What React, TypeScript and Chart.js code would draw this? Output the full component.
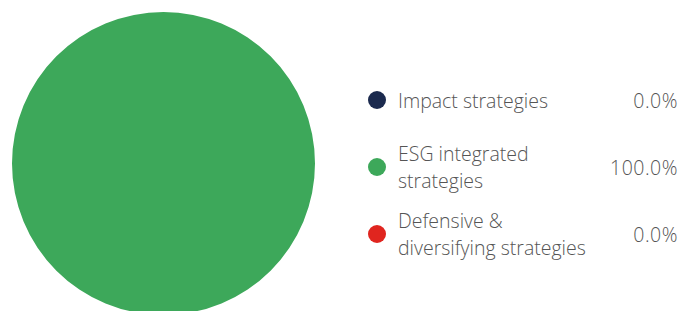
import React, { useEffect, useRef } from "react";
import { Chart, registerables } from "chart.js";

Chart.register(...registerables);

const categories: string[][] = [
  ["Impact strategies"],
  ["ESG integrated", "strategies"],
  ["Defensive &", "diversifying strategies"],
];
const values: number[] = [0, 100, 0];
const valueLabels: string[] = ["0.0%", "100.0%", "0.0%"];
const colors: string[] = ["#1b2a4e", "#3da85a", "#e0251f"];

const rowCenters = [100, 167, 234];

export default function App() {
  const ref = useRef<HTMLCanvasElement>(null);
  useEffect(() => {
    if (!ref.current) return;
    const chart = new Chart(ref.current, {
      type: "pie",
      data: {
        labels: categories.map((c) => c.join(" ")),
        datasets: [
          {
            data: values,
            backgroundColor: colors,
            borderWidth: 0,
          },
        ],
      },
      options: {
        responsive: false,
        animation: false,
        layout: { padding: 4 },
        plugins: { legend: { display: false }, tooltip: { enabled: false } },
      },
    });
    return () => chart.destroy();
  }, []);

  const font = "'Open Sans', sans-serif";
  const fs = 19.5;
  return (
    <div style={{ position: "absolute", left: 0, top: 0, width: 681, height: 311, overflow: "hidden" }}>
      <canvas ref={ref} width={311} height={311} style={{ position: "absolute", left: 8, top: 8, width: 311, height: 311 }} />
      {categories.map((lines, i) => (
        <div key={i}>
          <div
            style={{
              position: "absolute",
              left: 368,
              top: rowCenters[i] - 9,
              width: 18,
              height: 18,
              borderRadius: "50%",
              background: colors[i],
            }}
          />
          <div
            style={{
              position: "absolute",
              left: 398,
              top: rowCenters[i] - (lines.length * 27) / 2,
              fontFamily: font,
              fontSize: fs,
              lineHeight: "27px",
              color: "#555",
              fontWeight: 300,
              whiteSpace: "nowrap",
            }}
          >
            {lines.map((l, j) => (
              <div key={j}>{l}</div>
            ))}
          </div>
          <div
            style={{
              position: "absolute",
              right: 3,
              top: rowCenters[i] - 13.5,
              fontFamily: font,
              fontSize: fs,
              lineHeight: "27px",
              color: "#555",
              fontWeight: 300,
              textAlign: "right",
              letterSpacing: 0.5,
            }}
          >
            {valueLabels[i]}
          </div>
        </div>
      ))}
    </div>
  );
}
